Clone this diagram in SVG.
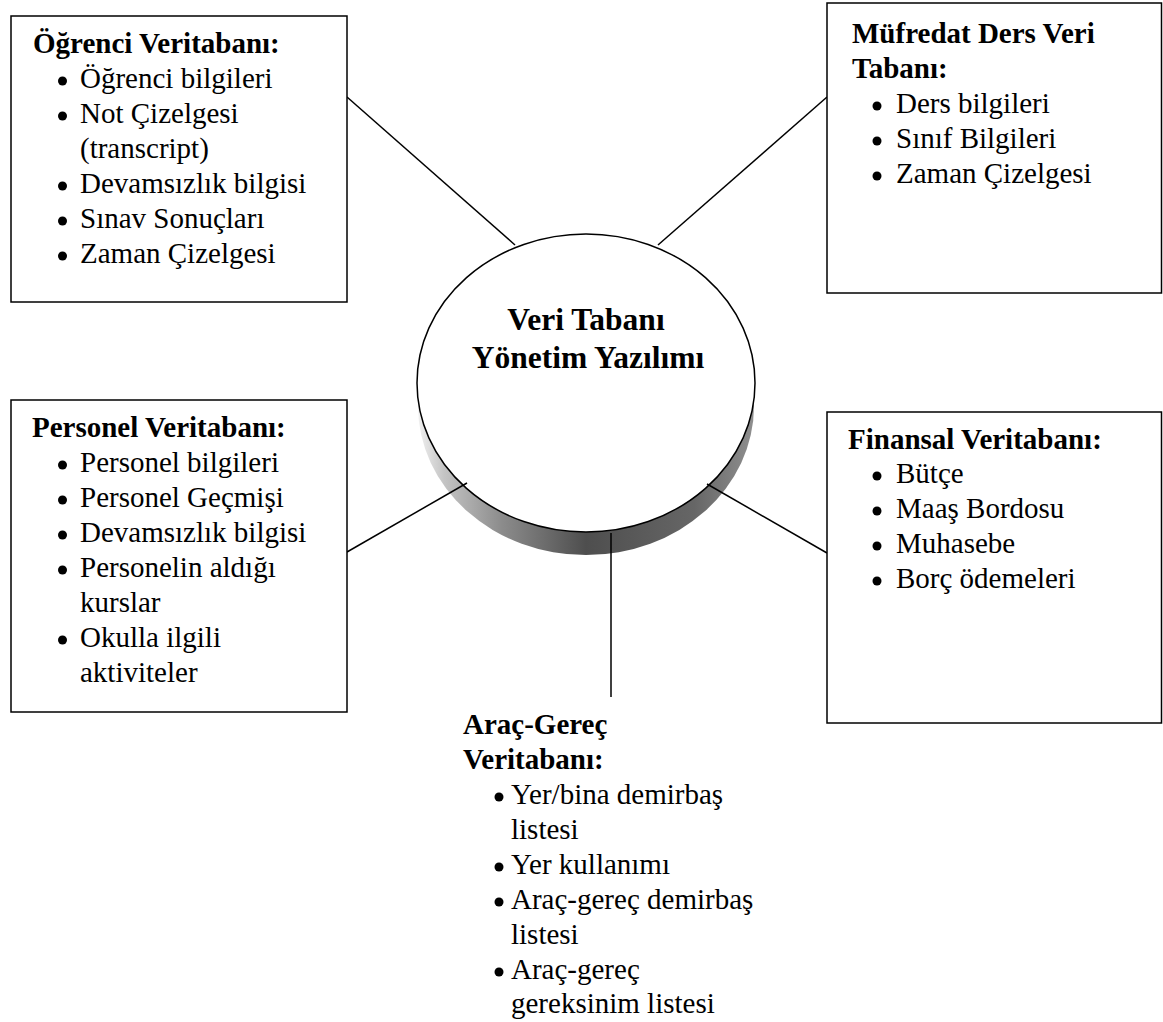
<svg xmlns="http://www.w3.org/2000/svg" width="1163" height="1022" viewBox="0 0 1163 1022">
  <style>
    .box { fill: #ffffff; stroke: #000000; stroke-width: 1.5; }
    .link { stroke: #000000; stroke-width: 1.5; fill: none; }
    text { font-family: "Liberation Serif", "Times New Roman", serif; fill: #000000; }
    .head { font-size: 29px; font-weight: bold; }
    .item { font-size: 29px; }
    .title { font-size: 31.5px; font-weight: bold; text-anchor: middle; }
    .dot { fill: #000000; }
  </style>
  <defs>
    <linearGradient id="sideShade" gradientUnits="userSpaceOnUse" x1="417" y1="0" x2="755" y2="0">
      <stop offset="0" stop-color="#f2f2f2"/>
      <stop offset="0.08" stop-color="#c4c4c4"/>
      <stop offset="0.25" stop-color="#8c8c8c"/>
      <stop offset="0.5" stop-color="#4e4e4e"/>
      <stop offset="0.82" stop-color="#666666"/>
      <stop offset="1" stop-color="#909090"/>
    </linearGradient>
  </defs>
  <rect width="1163" height="1022" fill="#ffffff"/>

  <!-- central cylinder: shaded side band under a white top face -->
  <g id="dbms">
    <ellipse cx="586" cy="406" rx="168" ry="149" fill="url(#sideShade)"/>
    <ellipse cx="586" cy="383" rx="169" ry="149" fill="#ffffff" stroke="#000000" stroke-width="1.5"/>
    <text class="title" x="586" y="330">Veri Tabanı</text>
    <text class="title" x="588" y="368">Yönetim Yazılımı</text>
  </g>

  <!-- connectors between the central software and each database -->
  <g id="connectors">
    <line class="link" x1="347" y1="97" x2="515" y2="245"/>
    <line class="link" x1="658" y1="245" x2="827" y2="97"/>
    <line class="link" x1="347" y1="552" x2="467" y2="483"/>
    <line class="link" x1="707" y1="484" x2="827" y2="553"/>
    <line class="link" x1="611" y1="533" x2="611" y2="697"/>
  </g>

  <g id="ogrenci">
    <rect class="box" x="11" y="16" width="336" height="286"/>
    <text class="head" x="33" y="53">Öğrenci Veritabanı:</text>
    <circle class="dot" cx="62.5" cy="81" r="4.5"/>
    <text class="item" x="80" y="88">Öğrenci bilgileri</text>
    <circle class="dot" cx="62.5" cy="116" r="4.5"/>
    <text class="item" x="80" y="123">Not Çizelgesi</text>
    <text class="item" x="80" y="158">(transcript)</text>
    <circle class="dot" cx="62.5" cy="186" r="4.5"/>
    <text class="item" x="80" y="193">Devamsızlık bilgisi</text>
    <circle class="dot" cx="62.5" cy="221" r="4.5"/>
    <text class="item" x="80" y="228">Sınav Sonuçları</text>
    <circle class="dot" cx="62.5" cy="256" r="4.5"/>
    <text class="item" x="80" y="263">Zaman Çizelgesi</text>
  </g>

  <g id="mufredat">
    <rect class="box" x="827" y="3" width="334.5" height="290"/>
    <text class="head" x="852" y="43">Müfredat Ders Veri</text>
    <text class="head" x="852" y="78">Tabanı:</text>
    <circle class="dot" cx="877" cy="106" r="4.5"/>
    <text class="item" x="896" y="113">Ders bilgileri</text>
    <circle class="dot" cx="877" cy="141" r="4.5"/>
    <text class="item" x="896" y="148">Sınıf Bilgileri</text>
    <circle class="dot" cx="877" cy="176" r="4.5"/>
    <text class="item" x="896" y="183">Zaman Çizelgesi</text>
  </g>

  <g id="personel">
    <rect class="box" x="11" y="400" width="336" height="312"/>
    <text class="head" x="32" y="437">Personel Veritabanı:</text>
    <circle class="dot" cx="62.5" cy="465" r="4.5"/>
    <text class="item" x="80" y="472">Personel bilgileri</text>
    <circle class="dot" cx="62.5" cy="500" r="4.5"/>
    <text class="item" x="80" y="507">Personel Geçmişi</text>
    <circle class="dot" cx="62.5" cy="535" r="4.5"/>
    <text class="item" x="80" y="542">Devamsızlık bilgisi</text>
    <circle class="dot" cx="62.5" cy="570" r="4.5"/>
    <text class="item" x="80" y="577">Personelin aldığı</text>
    <text class="item" x="80" y="612">kurslar</text>
    <circle class="dot" cx="62.5" cy="640" r="4.5"/>
    <text class="item" x="80" y="647">Okulla ilgili</text>
    <text class="item" x="80" y="682">aktiviteler</text>
  </g>

  <g id="finansal">
    <rect class="box" x="827" y="412" width="334.5" height="311"/>
    <text class="head" x="848" y="449">Finansal Veritabanı:</text>
    <circle class="dot" cx="877" cy="476" r="4.5"/>
    <text class="item" x="896" y="483">Bütçe</text>
    <circle class="dot" cx="877" cy="511" r="4.5"/>
    <text class="item" x="896" y="518">Maaş Bordosu</text>
    <circle class="dot" cx="877" cy="546" r="4.5"/>
    <text class="item" x="896" y="553">Muhasebe</text>
    <circle class="dot" cx="877" cy="581" r="4.5"/>
    <text class="item" x="896" y="588">Borç ödemeleri</text>
  </g>

  <g id="arac-gerec">
    <text class="head" x="463" y="734">Araç-Gereç</text>
    <text class="head" x="463" y="769">Veritabanı:</text>
    <circle class="dot" cx="499" cy="797" r="4.5"/>
    <text class="item" x="511" y="804">Yer/bina demirbaş</text>
    <text class="item" x="511" y="839">listesi</text>
    <circle class="dot" cx="499" cy="867" r="4.5"/>
    <text class="item" x="511" y="874">Yer kullanımı</text>
    <circle class="dot" cx="499" cy="902" r="4.5"/>
    <text class="item" x="511" y="909">Araç-gereç demirbaş</text>
    <text class="item" x="511" y="944">listesi</text>
    <circle class="dot" cx="499" cy="972" r="4.5"/>
    <text class="item" x="511" y="979">Araç-gereç</text>
    <text class="item" x="511" y="1013">gereksinim listesi</text>
  </g>
</svg>
